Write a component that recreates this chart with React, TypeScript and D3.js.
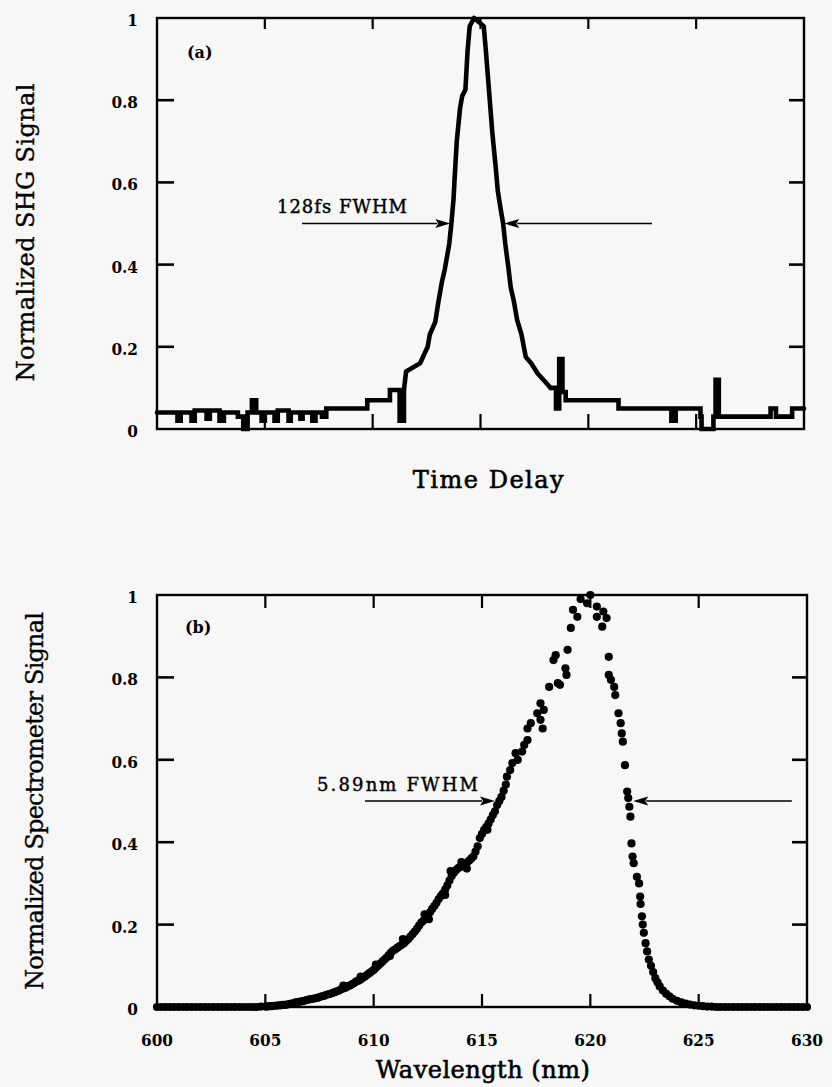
import React from 'react';
import * as d3 from 'd3';

// ---------- Panel (a): SHG autocorrelation trace (arbitrary delay units, ticks every unit) ----------
const shgDelay = [
  0.00, 0.19, 0.22, 0.32, 0.35, 0.46, 0.49, 0.58, 0.62, 0.75,
  0.80, 0.84, 0.88, 0.92, 0.97, 1.00, 1.09, 1.12, 1.22, 1.24,
  1.33, 1.35, 1.44, 1.47, 1.53, 1.57, 1.95, 2.16, 2.25, 2.29,
  2.31, 2.44, 2.51, 2.53, 2.58, 2.61, 2.64, 2.67, 2.71, 2.73,
  2.75, 2.76, 2.78, 2.81, 2.83, 2.86, 2.88, 2.90, 2.94, 3.03,
  3.05, 3.08, 3.11, 3.14, 3.16, 3.19, 3.21, 3.23, 3.26, 3.28,
  3.31, 3.34, 3.38, 3.42, 3.47, 3.53, 3.60, 3.65, 3.70, 3.73,
  3.76, 3.79, 4.28, 4.77, 4.81, 5.04, 5.05, 5.16, 5.18, 5.21,
  5.69, 5.74, 5.89, 6.00,
];
const shgSignal = [
  0.04, 0.02, 0.04, 0.02, 0.045, 0.025, 0.045, 0.02, 0.04, 0.03,
  0.0, 0.04, 0.07, 0.04, 0.02, 0.04, 0.02, 0.045, 0.02, 0.04,
  0.025, 0.04, 0.02, 0.04, 0.03, 0.05, 0.07, 0.095, 0.02, 0.095,
  0.14, 0.16, 0.2, 0.23, 0.26, 0.31, 0.355, 0.39, 0.45, 0.5,
  0.56, 0.61, 0.7, 0.78, 0.81, 0.825, 0.92, 0.98, 1.0, 0.98,
  0.92, 0.82, 0.72, 0.64, 0.58, 0.53, 0.5, 0.45, 0.39, 0.345,
  0.31, 0.265, 0.23, 0.175, 0.16, 0.135, 0.115, 0.10, 0.05, 0.17,
  0.09, 0.07, 0.05, 0.02, 0.05, 0.03, 0.0, 0.03, 0.12, 0.03,
  0.05, 0.03, 0.05, 0.05,
];
const shgPulseRange = [2.29, 3.65]; // delays between which the trace is drawn as a sloped line
const delayTicks = [1, 2, 3, 4, 5];
const shgFwhmLabel = '128fs FWHM';
const shgArrowLeft = [1.345, 2.72];   // tail, tip
const shgArrowRight = [4.59, 3.22];   // tail, tip

// ---------- Panel (b): spectrum (nm, normalized) ----------
const spectrumTailLeft: [number, number][] = [
  [600.0, 0], [600.2, 0], [600.4, 0], [600.6, 0], [600.8, 0], [601.0, 0], [601.2, 0], [601.4, 0], [601.6, 0], [601.8, 0],
  [602.0, 0], [602.2, 0], [602.4, 0], [602.6, 0], [602.8, 0], [603.0, 0], [603.2, 0], [603.4, 0], [603.6, 0], [603.8, 0],
  [604.0, 0], [604.2, 0], [604.4, 0], [604.6, 0], [604.8, 0.001],
];
const spectrumRise: [number, number][] = [
  [605.0, 0.001], [605.1, 0.001], [605.2, 0.002], [605.3, 0.002], [605.4, 0.003], [605.5, 0.003], [605.6, 0.004], [605.7, 0.004], [605.8, 0.005], [605.9, 0.005],
  [606.0, 0.006], [606.1, 0.007], [606.2, 0.008], [606.3, 0.009], [606.4, 0.011], [606.5, 0.012], [606.6, 0.013], [606.7, 0.014], [606.8, 0.015], [606.9, 0.017],
  [607.0, 0.018], [607.1, 0.019], [607.2, 0.02], [607.3, 0.021], [607.4, 0.022], [607.5, 0.024], [607.6, 0.026], [607.7, 0.027], [607.8, 0.029], [607.9, 0.031],
  [608.0, 0.032], [608.1, 0.034], [608.2, 0.036], [608.3, 0.038], [608.4, 0.04], [608.5, 0.043], [608.6, 0.045], [608.7, 0.047], [608.8, 0.05], [608.9, 0.052],
  [609.0, 0.055], [609.1, 0.058], [609.2, 0.062], [609.3, 0.064], [609.4, 0.067], [609.5, 0.071], [609.6, 0.074], [609.7, 0.078], [609.8, 0.082], [609.9, 0.086],
  [610.0, 0.09], [610.1, 0.095], [610.2, 0.1], [610.3, 0.105], [610.4, 0.11], [610.5, 0.115], [610.6, 0.12], [610.7, 0.126], [610.8, 0.132], [610.9, 0.137],
  [611.0, 0.14], [611.1, 0.144], [611.2, 0.148], [611.3, 0.151], [611.4, 0.155], [611.5, 0.16], [611.6, 0.165], [611.7, 0.171], [611.8, 0.177], [611.9, 0.183],
  [612.0, 0.19], [612.1, 0.198], [612.2, 0.205], [612.3, 0.21], [612.4, 0.215], [612.5, 0.222], [612.6, 0.23], [612.7, 0.238], [612.8, 0.245], [612.9, 0.253],
  [613.0, 0.262], [613.1, 0.269], [613.2, 0.276], [613.3, 0.285], [613.4, 0.295], [613.5, 0.307], [613.6, 0.318], [613.7, 0.326], [613.8, 0.332], [613.9, 0.337],
  [614.0, 0.34], [614.1, 0.342], [614.2, 0.345], [614.3, 0.35], [614.4, 0.355], [614.5, 0.36], [614.6, 0.365], [614.7, 0.377], [614.8, 0.39], [614.9, 0.41],
  [615.0, 0.42], [615.1, 0.43], [615.2, 0.437], [615.3, 0.445], [615.4, 0.455], [615.5, 0.466], [615.6, 0.475], [615.7, 0.49], [615.8, 0.5], [615.9, 0.51],
  [611.35, 0.165], [612.35, 0.225], [612.55, 0.213], [613.3, 0.272], [613.55, 0.33], [614.05, 0.352], [614.3, 0.336], [615.25, 0.43],
  [608.6, 0.052], [609.4, 0.074], [610.1, 0.103], [610.75, 0.124],
];
const spectrumPeak: [number, number][] = [
  [616.0, 0.525], [616.1, 0.54], [616.15, 0.559], [616.3, 0.575], [616.4, 0.592], [616.55, 0.616], [616.65, 0.6], [616.85, 0.62],
  [616.95, 0.636], [617.1, 0.648], [617.1, 0.676], [617.25, 0.689], [617.55, 0.713], [617.7, 0.697], [617.7, 0.737], [617.8, 0.676], [617.85, 0.721], [618.1, 0.777],
  [618.3, 0.842], [618.4, 0.854], [618.5, 0.786], [618.6, 0.782], [618.85, 0.822], [618.9, 0.806], [618.95, 0.867], [619.1, 0.92], [619.2, 0.964], [619.4, 0.947],
  [619.55, 0.99], [619.85, 0.98], [620.0, 1.0], [620.3, 0.972], [620.3, 0.947], [620.55, 0.923], [620.6, 0.96], [620.75, 0.944], [620.85, 0.85], [620.85, 0.806],
  [620.95, 0.794], [621.1, 0.777], [621.15, 0.757], [621.3, 0.713], [621.4, 0.689], [621.45, 0.664], [621.5, 0.644], [621.6, 0.587], [621.7, 0.523], [621.75, 0.507],
];
const spectrumFall: [number, number][] = [
  [621.8, 0.486], [621.85, 0.462], [621.9, 0.397], [621.95, 0.365], [622.0, 0.349], [622.15, 0.316], [622.25, 0.3], [622.3, 0.268], [622.32, 0.25], [622.38, 0.22],
  [622.42, 0.2], [622.47, 0.18], [622.55, 0.155], [622.62, 0.135], [622.7, 0.115], [622.8, 0.1], [622.9, 0.085], [623.0, 0.07], [623.1, 0.06], [623.2, 0.05],
  [623.35, 0.04], [623.5, 0.032], [623.65, 0.026], [623.8, 0.02], [624.0, 0.015], [624.2, 0.011], [624.4, 0.008], [624.6, 0.006], [624.8, 0.004], [625.0, 0.003],
];
const spectrumTailRight: [number, number][] = [
  [625.2, 0.002], [625.4, 0.001], [625.6, 0.001], [625.8, 0], [626.0, 0], [626.2, 0], [626.4, 0], [626.6, 0], [626.8, 0], [627.0, 0],
  [627.2, 0], [627.4, 0], [627.6, 0], [627.8, 0], [628.0, 0], [628.2, 0], [628.4, 0], [628.6, 0], [628.8, 0], [629.0, 0],
  [629.2, 0], [629.4, 0], [629.6, 0], [629.8, 0], [630.0, 0],
];
const waveTicks = [600, 605, 610, 615, 620, 625, 630];
const specFwhmLabel = '5.89nm FWHM';
const specArrowLeft = [609.6, 615.6];
const specArrowRight = [629.3, 621.98];

// shared
const valueTicks = [0, 0.2, 0.4, 0.6, 0.8, 1];
const valueTickLabels = ['0', '0.2', '0.4', '0.6', '0.8', '1'];

const W = 832;
const H = 1087;
const SERIF = '"DejaVu Serif", "Liberation Serif", serif';
const TICKFONT = '"DejaVu Serif Condensed", "DejaVu Serif", serif';

type Scale = d3.ScaleLinear<number, number>;

function Frame({ x, y, xTicks, topLen, botLen }: { x: Scale; y: Scale; xTicks: number[]; topLen: number; botLen: number }) {
  const [x0, x1] = x.range();
  const [y0, y1] = y.range(); // y0 bottom, y1 top
  const inner = valueTicks.filter((v) => v > 0 && v < 1);
  const innerX = xTicks.filter((t) => x(t) > x0 + 1 && x(t) < x1 - 1);
  return (
    <g stroke="#000" fill="none">
      <rect x={x0} y={y1} width={x1 - x0} height={y0 - y1} strokeWidth={2.4} />
      {inner.map((v) => (
        <g key={'y' + v} strokeWidth={2.6}>
          <line x1={x0} x2={x0 + 17} y1={y(v)} y2={y(v)} />
          <line x1={x1} x2={x1 - 15} y1={y(v)} y2={y(v)} />
        </g>
      ))}
      {innerX.map((t) => (
        <g key={'x' + t} strokeWidth={2.2}>
          <line x1={x(t)} x2={x(t)} y1={y1} y2={y1 + topLen} />
          <line x1={x(t)} x2={x(t)} y1={y0} y2={y0 - botLen} />
        </g>
      ))}
    </g>
  );
}

function YLabels({ y }: { y: Scale }) {
  const x0 = 138;
  return (
    <g fontFamily={TICKFONT} fontWeight="bold" fontSize={17} textAnchor="end" fill="#000">
      {valueTicks.map((v, i) => (
        <text key={v} x={x0} y={y(v) + 8}>
          {valueTickLabels[i]}
        </text>
      ))}
    </g>
  );
}

function Arrow({ xTail, xTip, yv }: { xTail: number; xTip: number; yv: number }) {
  const dir = Math.sign(xTip - xTail);
  const len = 15;
  const hw = 4.5;
  const base = xTip - dir * len;
  return (
    <g>
      <line x1={xTail} x2={base + dir * 2} y1={yv} y2={yv} stroke="#000" strokeWidth={1.7} />
      <path d={`M${xTip},${yv} L${base},${yv - hw} L${base + dir * 3},${yv} L${base},${yv + hw} Z`} fill="#000" />
    </g>
  );
}

export default function App() {
  // Panel (a)
  const xA = d3.scaleLinear().domain([0, 6]).range([157, 804]);
  const yA = d3.scaleLinear().domain([0, 1]).range([429, 18]);
  const shgPts = shgDelay.map((d, i) => [d, shgSignal[i]] as [number, number]);
  const [p0, p1] = shgPulseRange;
  const before = shgPts.filter((d) => d[0] <= p0);
  const pulse = shgPts.filter((d) => d[0] >= p0 && d[0] <= p1);
  const after = shgPts.filter((d) => d[0] >= p1);
  const stepLine = d3
    .line<[number, number]>()
    .x((d) => xA(d[0]))
    .y((d) => yA(d[1]))
    .curve(d3.curveStepAfter);
  const slopeLine = d3
    .line<[number, number]>()
    .x((d) => xA(d[0]))
    .y((d) => yA(d[1]))
    .curve(d3.curveLinear);

  // Panel (b)
  const xB = d3.scaleLinear().domain([600, 630]).range([157, 807]);
  const yB = d3.scaleLinear().domain([0, 1]).range([1007, 595]);
  const spectrum = [...spectrumTailLeft, ...spectrumRise, ...spectrumPeak, ...spectrumFall, ...spectrumTailRight];

  const titleStyle = { fontFamily: SERIF, fontSize: 24, stroke: '#000', strokeWidth: 0.35 } as const;
  const traceStyle = { fill: 'none', stroke: '#000', strokeWidth: 4.6, strokeLinejoin: 'round' as const, strokeLinecap: 'round' as const };

  return (
    <svg
      width={W}
      height={H}
      viewBox={`0 0 ${W} ${H}`}
      style={{ position: 'absolute', left: 0, top: 0, display: 'block' }}
    >
      <rect x={0} y={0} width={W} height={H} fill="#f7f7f7" />

      {/* ---------- Panel (a) ---------- */}
      <path d={stepLine(before) as string} {...traceStyle} strokeLinejoin="miter" />
      <path d={slopeLine(pulse) as string} {...traceStyle} />
      <path d={stepLine(after) as string} {...traceStyle} strokeLinejoin="miter" />
      <Frame x={xA} y={yA} xTicks={delayTicks} topLen={11} botLen={15} />
      <YLabels y={yA} />
      <text x={187} y={58} fontFamily={SERIF} fontWeight="bold" fontSize={16}>
        (a)
      </text>
      <text x={277} y={213} fontFamily={SERIF} fontSize={18} textLength={130} stroke="#000" strokeWidth={0.4}>
        {shgFwhmLabel}
      </text>
      <Arrow xTail={xA(shgArrowLeft[0])} xTip={xA(shgArrowLeft[1])} yv={yA(0.5)} />
      <Arrow xTail={xA(shgArrowRight[0])} xTip={xA(shgArrowRight[1])} yv={yA(0.5)} />
      <text x={489} y={488} {...titleStyle} strokeWidth={0.6} textAnchor="middle" letterSpacing={1.5}>
        Time Delay
      </text>
      <text
        transform={`translate(34, ${(yA(0) + yA(1)) / 2 + 9}) rotate(-90)`}
        {...titleStyle}
        textAnchor="middle"
        textLength={298}
      >
        Normalized SHG Signal
      </text>

      {/* ---------- Panel (b) ---------- */}
      <g fill="#000">
        {spectrum.map((d, i) => (
          <circle key={i} cx={xB(d[0])} cy={yB(d[1])} r={4.1} />
        ))}
      </g>
      <Frame x={xB} y={yB} xTicks={waveTicks} topLen={13} botLen={13} />
      <YLabels y={yB} />
      <g fontFamily={TICKFONT} fontWeight="bold" fontSize={17} textAnchor="middle">
        {waveTicks.map((t) => (
          <text key={t} x={xB(t)} y={1046}>
            {t}
          </text>
        ))}
      </g>
      <text x={185} y={633} fontFamily={SERIF} fontWeight="bold" fontSize={16}>
        (b)
      </text>
      <text x={317} y={791} fontFamily={SERIF} fontSize={18} textLength={161} stroke="#000" strokeWidth={0.4}>
        {specFwhmLabel}
      </text>
      <Arrow xTail={xB(specArrowLeft[0])} xTip={xB(specArrowLeft[1])} yv={yB(0.5)} />
      <Arrow xTail={xB(specArrowRight[0])} xTip={xB(specArrowRight[1])} yv={yB(0.5)} />
      <text x={483} y={1078} {...titleStyle} strokeWidth={0.6} textAnchor="middle" letterSpacing={0.5}>
        Wavelength (nm)
      </text>
      <text
        transform={`translate(43, ${(yB(0) + yB(1)) / 2}) rotate(-90)`}
        {...titleStyle}
        textAnchor="middle"
        textLength={378}
      >
        Normalized Spectrometer Signal
      </text>
    </svg>
  );
}
